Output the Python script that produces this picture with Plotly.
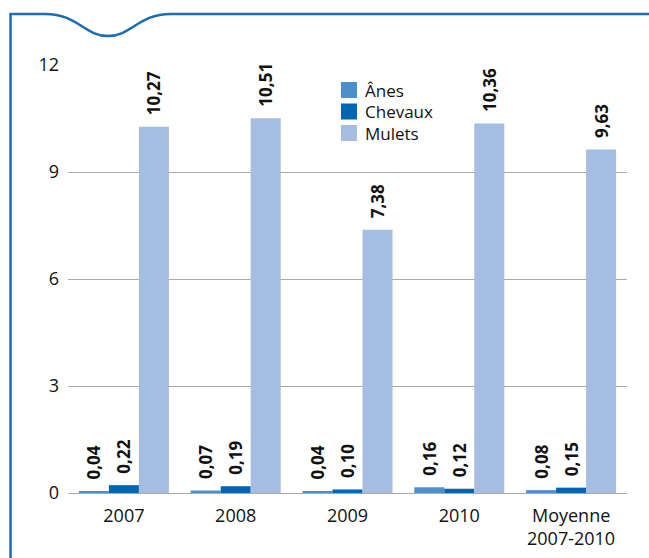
import plotly.graph_objects as go

categories = ["2007", "2008", "2009", "2010", "Moyenne<br>2007-2010"]
series_names = ["Ânes", "Chevaux", "Mulets"]
anes = [0.04, 0.07, 0.04, 0.16, 0.08]
chevaux = [0.22, 0.19, 0.10, 0.12, 0.15]
mulets = [10.27, 10.51, 7.38, 10.36, 9.63]
colors = ["#4b8fcb", "#0066b1", "#a4bde0"]
y_ticks = [0, 3, 6, 9, 12]

W, H = 649, 558
L, R, T, B = 68, 22, 65, 65
pw, ph = W - L - R, H - T - B

def px(x):
    return (x - L) / pw

def py(y):
    return (H - B - y) / ph

def fmt(v):
    return "\u2002" + f"{v:.2f}".replace(".", ",")

fig = go.Figure()
for name, vals, col in zip(series_names, [anes, chevaux, mulets], colors):
    fig.add_trace(go.Bar(
        x=categories, y=vals, name=name, marker=dict(color=col, line=dict(width=0)),
        text=[fmt(v) for v in vals], textposition="outside", textangle=-90,
        constraintext="none", cliponaxis=False,
        textfont=dict(family="Open Sans", size=17, color="#111111", weight=700),
        showlegend=False,
    ))

# frame with wave notch
path = (f"M {px(10.5)},{py(600)} L {px(10.5)},{py(14)} L {px(45)},{py(14)} "
        f"C {px(78)},{py(14)} {px(84)},{py(36)} {px(108)},{py(36)} "
        f"C {px(132)},{py(36)} {px(138)},{py(14)} {px(171)},{py(14)} L {px(700)},{py(14)}")
shapes = [dict(type="path", xref="paper", yref="paper", path=path,
               line=dict(color="#1a6db4", width=2.5), layer="above")]

annotations = []
leg_x, leg_y0, leg_dy, sq = 341, 90, 21.5, 16
for i, (name, col) in enumerate(zip(series_names, colors)):
    yc = leg_y0 + i * leg_dy
    shapes.append(dict(type="rect", xref="paper", yref="paper",
                       x0=px(leg_x), x1=px(leg_x + sq), y0=py(yc - sq / 2), y1=py(yc + sq / 2),
                       fillcolor=col, line=dict(width=0)))
    annotations.append(dict(xref="paper", yref="paper", x=px(leg_x + sq + 6), y=py(yc),
                            text=name, showarrow=False, xanchor="left", yanchor="middle",
                            font=dict(family="Open Sans", size=17, color="#111111")))

fig.update_layout(
    width=W, height=H, margin=dict(l=L, r=R, t=T, b=B, autoexpand=False),
    paper_bgcolor="white", plot_bgcolor="white",
    barmode="group", bargap=0.195, bargroupgap=0,
    font=dict(family="Open Sans", size=18, color="#111111"),
    xaxis=dict(showgrid=False, showline=True, linecolor="#aaaaaa", linewidth=1.2,
               ticks="", ticklabelstandoff=6, tickfont=dict(size=18), automargin=False),
    yaxis=dict(range=[0, 12], tickvals=y_ticks, showgrid=True, gridcolor="#aaaaaa",
               gridwidth=1.2, zeroline=False, showline=False, ticks="",
               ticklabelstandoff=8, tickfont=dict(size=18), automargin=False),
    shapes=shapes, annotations=annotations,
)

fig.write_html("out.html")
